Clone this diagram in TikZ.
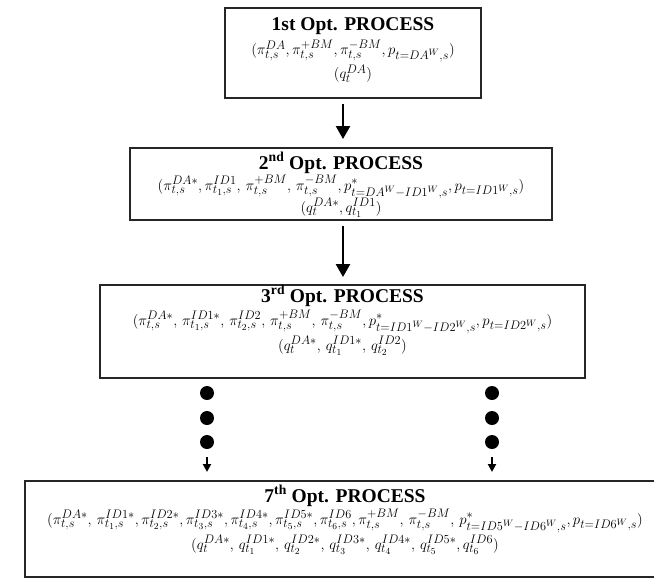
\documentclass[tikz,border=0pt]{standalone}
\usepackage{graphicx}
\usepackage{fontspec}
\setmainfont{Liberation Serif}
\DeclareMathSizes{14.4}{14.4}{12}{9}
\newcommand{\fm}[1]{\scalebox{1.028}{$#1$}}
\usetikzlibrary{arrows.meta}
\begin{document}
\begin{tikzpicture}[x=1pt,y=-1pt,
  box/.style={draw=black!85,line width=2pt,rectangle,inner sep=0pt},
  ttl/.style={font=\fontsize{19.5}{21}\selectfont\bfseries,inner sep=0pt},
  fml/.style={font=\fontsize{14.4}{17}\selectfont,inner sep=0pt},
  bigarr/.style={line width=2.5pt,-{Triangle[width=14pt,length=13pt]}},
  smallarr/.style={line width=2pt,-{Triangle[width=8pt,length=8pt]}},
  dot/.style={circle,fill=black,inner sep=0pt,minimum size=14pt}]
\useasboundingbox (0,0) rectangle (654,579);
% boxes
\node[box,minimum width=256pt,minimum height=90pt] (b1) at (353,53) {};
\node[box,minimum width=422pt,minimum height=72pt] (b2) at (341,184) {};
\node[box,minimum width=485pt,minimum height=93pt] (b3) at (342.5,331.5) {};
\node[box,minimum width=640pt,minimum height=96pt] (b7) at (345,529) {};
% texts
\node[ttl] (t1) at (353,26) {1st Opt. PROCESS};
\node[fml] (f1a) at (353,51) {\fm{(\pi^{DA}_{t,s}, \pi^{+BM}_{t,s}, \pi^{-BM}_{t,s}, p_{t=DA^W,s})}};
\node[fml] (f1b) at (353,74) {\fm{(q^{DA}_t)}};
\node[ttl] (t2) at (341,163) {2\textsuperscript{nd} Opt. PROCESS};
\node[fml] (f2a) at (341,187) {\fm{(\pi^{DA*}_{t,s}, \pi^{ID1}_{t_1,s},\, \pi^{+BM}_{t,s},\, \pi^{-BM}_{t,s}, p^*_{t=DA^W-ID1^W,s}, p_{t=ID1^W,s})}};
\node[fml] (f2b) at (341,208) {\fm{(q^{DA*}_t, q^{ID1}_{t_1})}};
\node[ttl] (t3) at (342.5,296) {3\textsuperscript{rd} Opt. PROCESS};
\node[fml] (f3a) at (342.5,322) {\fm{(\pi^{DA*}_{t,s},\, \pi^{ID1*}_{t_1,s},\, \pi^{ID2}_{t_2,s},\, \pi^{+BM}_{t,s},\, \pi^{-BM}_{t,s}, p^*_{t=ID1^W-ID2^W,s}, p_{t=ID2^W,s})}};
\node[fml] (f3b) at (342.5,346) {\fm{(q^{DA*}_t,\, q^{ID1*}_{t_1},\, q^{ID2}_{t_2})}};
\node[ttl] (t7) at (345,496) {7\textsuperscript{th} Opt. PROCESS};
\node[fml] (f7a) at (345,521) {\fm{(\pi^{DA*}_{t,s},\, \pi^{ID1*}_{t_1,s}, \pi^{ID2*}_{t_2,s}, \pi^{ID3*}_{t_3,s}, \pi^{ID4*}_{t_4,s}, \pi^{ID5*}_{t_5,s}, \pi^{ID6}_{t_6,s}, \pi^{+BM}_{t,s},\, \pi^{-BM}_{t,s},\, p^*_{t=ID5^W-ID6^W,s}, p_{t=ID6^W,s})}};
\node[fml] (f7b) at (345,545) {\fm{(q^{DA*}_t,\, q^{ID1*}_{t_1},\, q^{ID2*}_{t_2},\, q^{ID3*}_{t_3},\, q^{ID4*}_{t_4},\, q^{ID5*}_{t_5}, q^{ID6}_{t_6})}};
% arrows
\coordinate (ax) at (343,0);
\draw[bigarr] ([yshift=-5pt]ax |- b1.south) -- ([yshift=8pt]ax |- b2.north);
\draw[bigarr] ([yshift=-5pt]ax |- b2.south) -- ([yshift=7pt]ax |- b3.north);
% dots
\node[dot] (dl1) at (207,393) {};
\node[dot] (dl2) at (207,418) {};
\node[dot] (dl3) at (207,442) {};
\node[dot] (dr1) at (492,393) {};
\node[dot] (dr2) at (492,418) {};
\node[dot] (dr3) at (492,442) {};
\draw[smallarr] ([yshift=-8pt]dl3.south) -- ([yshift=8pt]dl3.south |- b7.north);
\draw[smallarr] ([yshift=-8pt]dr3.south) -- ([yshift=8pt]dr3.south |- b7.north);
\end{tikzpicture}
\end{document}
